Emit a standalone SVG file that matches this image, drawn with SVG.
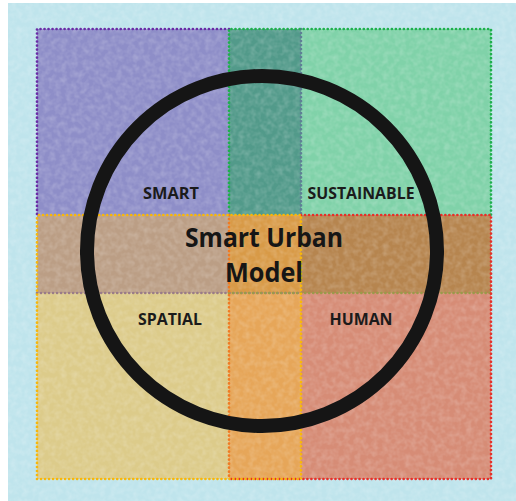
<svg xmlns="http://www.w3.org/2000/svg" width="516" height="501" viewBox="0 0 516 501">
  <defs>
    <style>
      .label { font-family: "Open Sans", "Liberation Sans", sans-serif; font-weight: 700; font-size: 16.5px; fill: #1b1b1b; text-anchor: middle; }
      .title { font-family: "Open Sans", "Liberation Sans", sans-serif; font-weight: 700; font-size: 26px; fill: #161616; text-anchor: middle; }
      .dots { fill: none; stroke-width: 2.7; stroke-linecap: round; stroke-dasharray: 0.01 4; }
    </style>
    <!-- soft mottled paper grain laid over the fills -->
    <filter id="grain" x="0" y="0" width="100%" height="100%">
      <feTurbulence type="fractalNoise" baseFrequency="0.18" numOctaves="2" seed="3" result="n"/>
      <feColorMatrix in="n" type="matrix" values="0 0 0 0 1  0 0 0 0 1  0 0 0 0 1  0 0 0 -1.6 1.05"/>
    </filter>
  </defs>

  <!-- page -->
  <rect x="0" y="0" width="516" height="501" fill="#ffffff"/>
  <rect x="8" y="3" width="508" height="498" fill="#bfe4ec"/>

  <!-- colour fields, including the overlap bands -->
  <g id="fields">
    <rect x="37" y="29" width="192" height="186" fill="#8e8ec8"/>
    <rect x="229" y="29" width="72" height="186" fill="#529a8a"/>
    <rect x="301" y="29" width="190" height="186" fill="#80d2a9"/>
    <rect x="37" y="215" width="192" height="78" fill="#bb9e85"/>
    <rect x="229" y="215" width="72" height="78" fill="#d89a47"/>
    <rect x="301" y="215" width="190" height="78" fill="#b6854f"/>
    <rect x="37" y="293" width="192" height="186" fill="#dccb8a"/>
    <rect x="229" y="293" width="72" height="186" fill="#e6a659"/>
    <rect x="301" y="293" width="190" height="186" fill="#d68c76"/>
  </g>

  <rect x="8" y="3" width="508" height="498" filter="url(#grain)" opacity="0.22"/>

  <!-- SMART -->
  <g id="smart">
    <path class="dots" stroke="#9a7c88" d="M37 293 H301"/>
    <path class="dots" stroke="#5f7f96" d="M301 29 V215"/>
    <path class="dots" stroke="#6a2ca6" d="M229 29 H37 V215"/>
    <text class="label" x="171" y="199" textLength="56" lengthAdjust="spacingAndGlyphs">SMART</text>
  </g>

  <!-- SUSTAINABLE -->
  <g id="sustainable">
    <path class="dots" stroke="#9a9a4a" d="M229 293 H491"/>
    <path class="dots" stroke="#1eb04c" d="M229 215 V29 H491 V215"/>
    <text class="label" x="361" y="199" textLength="107" lengthAdjust="spacingAndGlyphs">SUSTAINABLE</text>
  </g>

  <!-- HUMAN -->
  <g id="human">
    <path class="dots" stroke="#f07a22" d="M229 215 V479"/>
    <path class="dots" stroke="#e6302a" d="M301 215 H491 V479 H229"/>
    <text class="label" x="361" y="325" textLength="63" lengthAdjust="spacingAndGlyphs">HUMAN</text>
  </g>

  <!-- SPATIAL -->
  <g id="spatial">
    <path class="dots" stroke="#f8b70a" stroke-dashoffset="2" d="M37 215 H301 V479 H37 Z"/>
    <text class="label" x="170" y="325" textLength="64" lengthAdjust="spacingAndGlyphs">SPATIAL</text>
  </g>

  <!-- central model ring -->
  <g id="model">
    <circle cx="262" cy="251" r="175" fill="none" stroke="#151515" stroke-width="14"/>
    <text class="title" x="264" y="247" textLength="158" lengthAdjust="spacingAndGlyphs">Smart Urban</text>
    <text class="title" x="264" y="282" textLength="78" lengthAdjust="spacingAndGlyphs">Model</text>
  </g>
</svg>
